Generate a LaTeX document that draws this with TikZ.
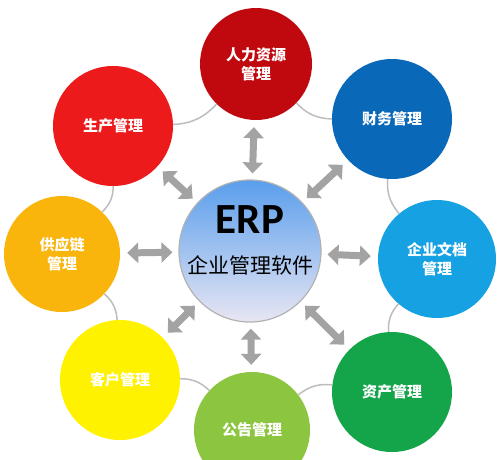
\documentclass[tikz,border=0pt]{standalone}
\usepackage{fontspec}
\setmainfont{Carlito}
\newfontfamily\cjk{Noto Sans CJK SC}
\usetikzlibrary{arrows.meta}
\definecolor{hrred}{HTML}{C0090F}
\definecolor{prodred}{HTML}{EC1A1A}
\definecolor{finblue}{HTML}{0A68B8}
\definecolor{docblue}{HTML}{16A2E2}
\definecolor{assetgreen}{HTML}{14A44A}
\definecolor{noticegreen}{HTML}{8CC640}
\definecolor{custyellow}{HTML}{FFF200}
\definecolor{supplyorange}{HTML}{F9B50C}
\definecolor{arrgray}{HTML}{A3A3A3}
\definecolor{ringgray}{HTML}{BDBDBD}
\definecolor{hubtop}{HTML}{5A9EEC}
\definecolor{hubbottom}{HTML}{E8E6F3}

\begin{document}
\begin{tikzpicture}[
  x=1pt, y=-1pt,
  ball/.style={circle, minimum size=120pt, inner sep=0pt, align=center,
               text=white, font=\cjk\bfseries\fontsize{15}{19}\selectfont},
  hub/.style={circle, minimum size=142pt, inner sep=0pt,
              top color=hubtop, bottom color=hubbottom,
              draw=gray!60, line width=1.2pt},
  dbl/.style={{Triangle[length=11pt,width=20pt]}-{Triangle[length=11pt,width=20pt]},
              line width=7pt, draw=arrgray, shorten <=6pt, shorten >=7pt},
  ring/.style={draw=ringgray, line width=1.5pt}
]
\useasboundingbox (0,0) rectangle (500,459);
\clip (0,0) rectangle (500,459);
\fill[white] (0,0) rectangle (500,459);

% outer modules, clockwise from the top
\node[ball, fill=hrred, minimum size=112pt] (hr) at (256,64) {人力资源\\管理};
\node[ball, fill=finblue] (fin) at (392,119) {财务管理};
\node[ball, fill=docblue, minimum size=118pt] (doc) at (437,259) {企业文档\\管理};
\node[ball, fill=assetgreen] (asset) at (392,392) {资产管理};
\node[ball, fill=noticegreen, minimum size=116pt] (notice) at (252,430) {公告管理};
\node[ball, fill=custyellow] (cust) at (120,380) {客户管理};
\node[ball, fill=supplyorange, minimum size=116pt] (supply) at (62,254) {供应链\\管理};
\node[ball, fill=prodred] (prod) at (113,126) {生产管理};

% hub
\node[hub] (erp) at (250,251) {};
\node[font=\bfseries\fontsize{43}{45}\selectfont] (erptitle) at (250,220) {ERP};
\node[font=\cjk\fontsize{21}{24}\selectfont] (erpsub) at (250,265) {企业管理软件};

\foreach \a/\b in {hr/fin, fin/doc, doc/asset, asset/notice,
                   notice/cust, cust/supply, supply/prod, prod/hr}
  \draw[ring] (\a) to[bend right=22] (\b);

\foreach \n in {hr, fin, doc, asset, notice, cust, supply, prod}
  \draw[dbl] (erp) -- (\n);
\end{tikzpicture}
\end{document}
